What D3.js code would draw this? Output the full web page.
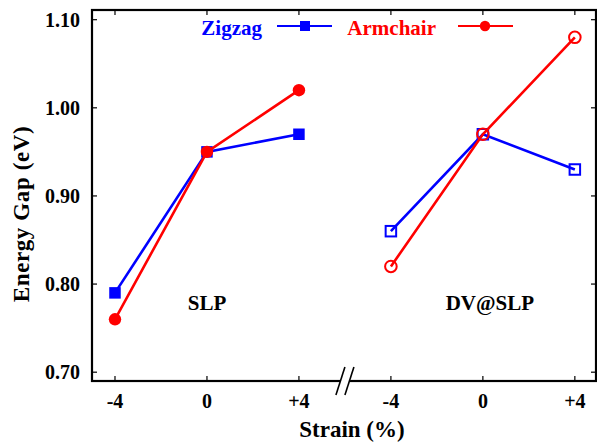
<!DOCTYPE html>
<html>
<head>
<meta charset="utf-8">
<script src="https://cdn.jsdelivr.net/npm/d3@7"></script>
<style>
  html, body { margin: 0; padding: 0; background: #fff; }
  svg { display: block; }
  text { font-family: "Times New Roman", "Liberation Serif", "DejaVu Serif", serif; font-weight: bold; }
</style>
</head>
<body>
<svg id="chart" width="597" height="443"></svg>
<script>
// Strain levels shown for each structure
const strainLabels = ["-4", "0", "+4"];
const groups = ["SLP", "DV@SLP"];
const yTicks = [0.70, 0.80, 0.90, 1.00, 1.10];

// Energy gap (eV) per strain level
const zigzagSLP = [0.79, 0.95, 0.97];
const armchairSLP = [0.76, 0.95, 1.02];
const zigzagDV = [0.86, 0.97, 0.93];
const armchairDV = [0.82, 0.97, 1.08];

const BLUE = "#0000ff";
const RED = "#ff0000";

const svg = d3.select("#chart");
const plotLeft = 92, plotRight = 596, plotTop = 10, plotBottom = 381;

// x positions: SLP strains at slots 0..2, DV@SLP strains at slots 3..5
const x = d3.scaleLinear().domain([-0.25, 5.23]).range([plotLeft, plotRight]);
const y = d3.scaleLinear().domain([0.69, 1.111]).range([plotBottom, plotTop]);

const slots = d3.range(6);
const slotLabels = strainLabels.concat(strainLabels);

// frame
svg.append("rect")
  .attr("x", plotLeft).attr("y", plotTop)
  .attr("width", plotRight - plotLeft).attr("height", plotBottom - plotTop)
  .attr("fill", "none").attr("stroke", "#000").attr("stroke-width", 2.2);

// inward ticks on all four sides
const tickLen = 5;
const tk = svg.append("g").attr("stroke", "#000").attr("stroke-width", 1.2);
slots.forEach(i => {
  tk.append("line").attr("x1", x(i)).attr("x2", x(i)).attr("y1", plotBottom).attr("y2", plotBottom - tickLen);
  tk.append("line").attr("x1", x(i)).attr("x2", x(i)).attr("y1", plotTop).attr("y2", plotTop + tickLen);
});
yTicks.forEach(v => {
  tk.append("line").attr("x1", plotLeft).attr("x2", plotLeft + tickLen).attr("y1", y(v)).attr("y2", y(v));
  tk.append("line").attr("x1", plotRight).attr("x2", plotRight - tickLen).attr("y1", y(v)).attr("y2", y(v));
});

// axis break on the bottom axis
const bx = (x(2) + x(3)) / 2;
svg.append("polygon")
  .attr("points", `${bx - 5},${plotBottom + 4} ${bx + 4},${plotBottom + 4} ${bx + 6},${plotBottom - 4} ${bx - 3},${plotBottom - 4}`)
  .attr("fill", "#fff");
[-4.5, 4.5].forEach(off => {
  svg.append("line")
    .attr("x1", bx + off - 4.5).attr("y1", plotBottom + 14)
    .attr("x2", bx + off + 4.5).attr("y2", plotBottom - 14)
    .attr("stroke", "#000").attr("stroke-width", 1.6);
});

// tick labels
svg.append("g").selectAll("text").data(yTicks).join("text")
  .attr("x", 80).attr("y", d => y(d)).attr("dy", "0.35em")
  .attr("text-anchor", "end").attr("font-size", 20)
  .text(d => d.toFixed(2));

svg.append("g").selectAll("text").data(slots).join("text")
  .attr("x", d => x(d)).attr("y", 408)
  .attr("text-anchor", "middle").attr("font-size", 20)
  .text(d => slotLabels[d]);

// axis titles
svg.append("text")
  .attr("x", 352).attr("y", 437)
  .attr("text-anchor", "middle").attr("font-size", 23)
  .text("Strain (%)");

svg.append("text")
  .attr("transform", "translate(29,214) rotate(-90)")
  .attr("text-anchor", "middle").attr("font-size", 23)
  .attr("letter-spacing", "0.6")
  .text("Energy Gap (eV)");

// structure annotations
svg.append("text").attr("x", x(1)).attr("y", 310)
  .attr("text-anchor", "middle").attr("font-size", 21).text(groups[0]);
svg.append("text").attr("x", x(4) + 7).attr("y", 310)
  .attr("text-anchor", "middle").attr("font-size", 21).text(groups[1]);

const line = d3.line().x(d => x(d.i)).y(d => y(d.v));

function series(values, offset, color, shape, filled) {
  const pts = values.map((v, k) => ({ i: k + offset, v }));
  svg.append("path").datum(pts)
    .attr("d", line).attr("fill", "none")
    .attr("stroke", color).attr("stroke-width", 2.6);
  const g = svg.append("g");
  pts.forEach(p => {
    if (shape === "square") {
      const s = filled ? 11.5 : 10.5;
      g.append("rect")
        .attr("x", x(p.i) - s / 2).attr("y", y(p.v) - s / 2)
        .attr("width", s).attr("height", s)
        .attr("fill", filled ? color : "none")
        .attr("stroke", color).attr("stroke-width", filled ? 0 : 2);
    } else {
      g.append("circle")
        .attr("cx", x(p.i)).attr("cy", y(p.v))
        .attr("r", filled ? 6.2 : 5.8)
        .attr("fill", filled ? color : "none")
        .attr("stroke", color).attr("stroke-width", filled ? 0 : 2);
    }
  });
}

series(zigzagSLP, 0, BLUE, "square", true);
series(armchairSLP, 0, RED, "circle", true);
series(zigzagDV, 3, BLUE, "square", false);
series(armchairDV, 3, RED, "circle", false);

// legend
const lg = svg.append("g");
lg.append("text").attr("x", 262).attr("y", 35).attr("text-anchor", "end")
  .attr("font-size", 21).attr("fill", BLUE).text("Zigzag");
lg.append("line").attr("x1", 277).attr("x2", 332).attr("y1", 26).attr("y2", 26)
  .attr("stroke", BLUE).attr("stroke-width", 2.2);
lg.append("rect").attr("x", 305 - 5).attr("y", 26 - 5).attr("width", 10).attr("height", 10)
  .attr("fill", BLUE);
lg.append("text").attr("x", 436).attr("y", 35).attr("text-anchor", "end")
  .attr("font-size", 21).attr("fill", RED).text("Armchair");
lg.append("line").attr("x1", 458).attr("x2", 513).attr("y1", 26).attr("y2", 26)
  .attr("stroke", RED).attr("stroke-width", 2.2);
lg.append("circle").attr("cx", 485).attr("cy", 26).attr("r", 5.2).attr("fill", RED);
</script>
</body>
</html>
